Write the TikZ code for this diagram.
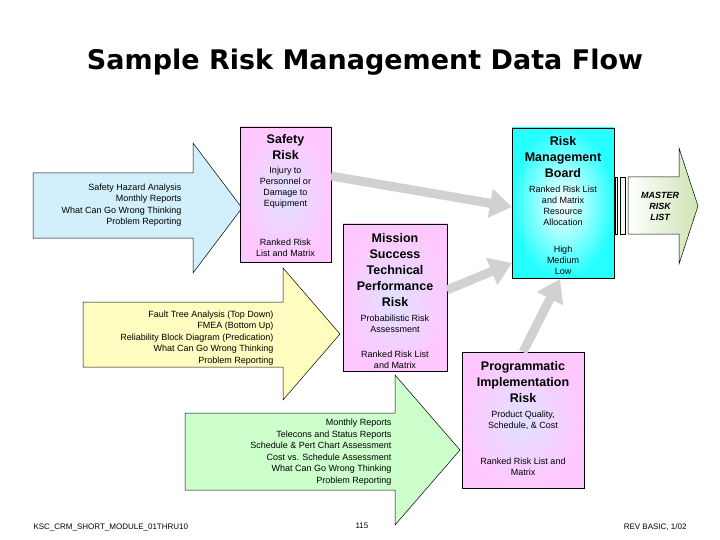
\documentclass[tikz,border=0pt]{standalone}
\usepackage{fontspec}
\setmainfont{Liberation Sans}
\newfontfamily\titlefont{DejaVu Sans}
\usetikzlibrary{arrows.meta,shadings}
\begin{document}
\begin{tikzpicture}[x=1pt,y=-1pt,
 box/.style={draw=black,line width=0.6pt,inner color=blue!12,outer color=magenta!22},
 small/.style={font=\fontsize{9}{11}\selectfont,align=center},
 rtxt/.style={font=\fontsize{9}{11.5}\selectfont,align=right,anchor=east},
 ttl/.style={font=\fontsize{12.5}{16}\selectfont\bfseries,align=center},
 flow/.style={draw=black!18,line width=9pt,-{Triangle[length=22pt,width=28pt]}},
 bigarrow/.style={draw=black,line width=0.5pt}]
\useasboundingbox (0,0) rectangle (720,540);
\node[font=\fontsize{27}{30}\selectfont\titlefont\bfseries] (title) at (365,62) {Sample Risk Management Data Flow};
% big input arrows
\draw[bigarrow,fill=cyan!18] (33,173)--(193,173)--(193,143)--(242,208)--(193,273)--(193,238)--(33,238)--cycle;
\node[rtxt] (a1) at (185,205) {Safety Hazard Analysis\\Monthly Reports\\What Can Go Wrong Thinking\\Problem Reporting};
\draw[bigarrow,fill=yellow!25] (83,302)--(283,302)--(283,268)--(340,334)--(283,400)--(283,367)--(83,367)--cycle;
\node[rtxt] (a2) at (277,338) {Fault Tree Analysis (Top Down)\\FMEA (Bottom Up)\\Reliability Block Diagram (Predication)\\What Can Go Wrong Thinking\\Problem Reporting};
\draw[bigarrow,fill=green!20] (185,413)--(395,413)--(395,375)--(460,450)--(395,525)--(395,490)--(185,490)--cycle;
\node[rtxt] (a3) at (395,452) {Monthly Reports\\Telecons and Status Reports\\Schedule \& Pert Chart Assessment\\Cost vs. Schedule Assessment\\What Can Go Wrong Thinking\\Problem Reporting};
% boxes
\path[box] (240,127) rectangle (331,262);
\node[ttl] (s1) at (285.5,147) {Safety\\Risk};
\node[small] (s2) at (285.5,188) {Injury to\\Personnel or\\Damage to\\Equipment};
\node[small] (s3) at (285.5,248) {Ranked Risk\\List and Matrix};
\coordinate (sr) at (331,176);
\path[box] (343,224) rectangle (447,371);
\node[ttl] (m1) at (395,270) {Mission\\Success\\Technical\\Performance\\Risk};
\node[small] (m2) at (395,324) {Probabilistic Risk\\Assessment};
\node[small] (m3) at (395,360) {Ranked Risk List\\and Matrix};
\coordinate (mr) at (447,290);
\path[box] (462,352) rectangle (584,488);
\node[ttl] (p1) at (523,382) {Programmatic\\Implementation\\Risk};
\node[small] (p2) at (523,420) {Product Quality,\\Schedule, \& Cost};
\node[small] (p3) at (523,467) {Ranked Risk List and\\Matrix};
\coordinate (pt) at (523,352);
\path[draw=black,line width=0.6pt,inner color=white,outer color=cyan!85] (512,128) rectangle (614,278);
\node[ttl] (r1) at (563,157) {Risk\\Management\\Board};
\node[small] (r2) at (563,206) {Ranked Risk List\\and Matrix\\Resource\\Allocation};
\node[small] (r3) at (563,260) {High\\Medium\\Low};
\coordinate (rl1) at (512,207);
\coordinate (rl2) at (512,263);
\coordinate (rb) at (560,279);
\draw[flow] (sr)--(rl1);
\draw[flow] (mr)--(rl2);
\draw[flow] (pt)--(rb);
% master risk list arrow
\draw[black,line width=0.5pt,fill=green!8] (615,177) rectangle (617,234);
\draw[black,line width=0.5pt,fill=green!8] (620,177) rectangle (625,234);
\draw[bigarrow,left color=white,right color=green!30!olive!30] (628,177)--(679,177)--(679,148)--(698,206)--(679,264)--(679,234)--(628,234)--cycle;
\node[font=\fontsize{9}{11}\selectfont\bfseries\itshape,align=center] (ml) at (660,206) {MASTER\\RISK\\LIST};
% footer
\node[font=\fontsize{8}{10}\selectfont,anchor=west] (f1) at (30,527) {KSC\_CRM\_SHORT\_MODULE\_01THRU10};
\node[font=\fontsize{8}{10}\selectfont] (f2) at (362,526) {115};
\node[font=\fontsize{8}{10}\selectfont,anchor=east] (f3) at (690,527) {REV BASIC, 1/02};
\end{tikzpicture}
\end{document}
